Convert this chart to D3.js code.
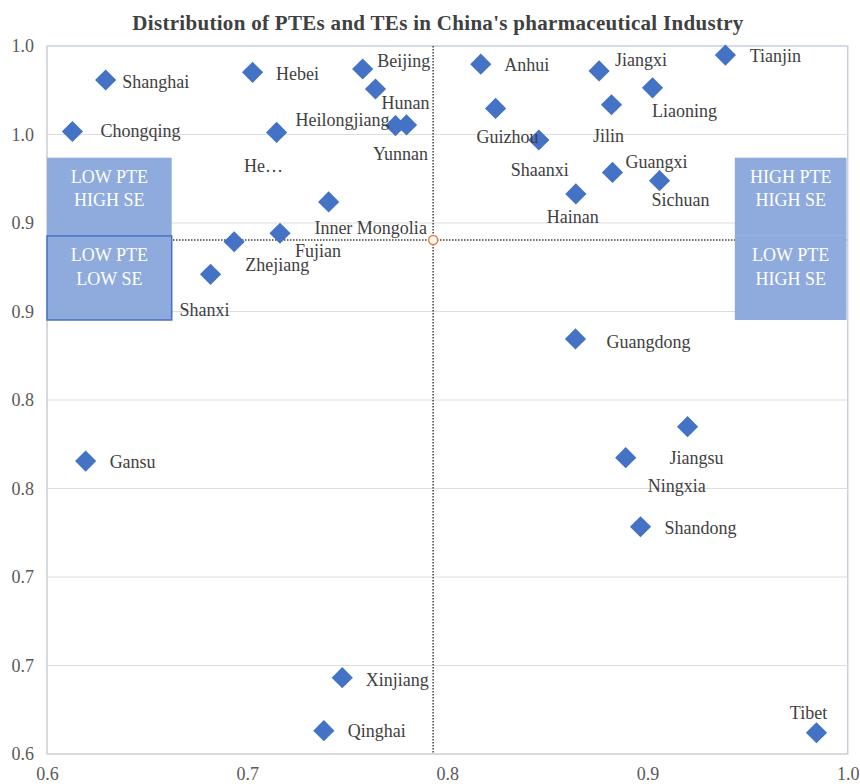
<!DOCTYPE html>
<html>
<head>
<meta charset="utf-8">
<script src="https://cdn.jsdelivr.net/npm/d3@7"></script>
<style>
    body { margin: 0; background: #ffffff; }
    #chart { width: 860px; height: 784px; }
    text { font-family: "Liberation Serif", "Times New Roman", serif; }
</style>
</head>
<body>
<div id="chart"></div>
<script>
// Province names and their (PTE, SE) values
const provinces = ["Shanghai", "Hebei", "Beijing", "Hunan", "Heilongjiang", "Yunnan",
    "Chongqing", "Henan", "Inner Mongolia", "Fujian", "Zhejiang", "Shanxi", "Gansu",
    "Xinjiang", "Qinghai", "Anhui", "Jiangxi", "Tianjin", "Liaoning", "Guizhou", "Jilin",
    "Shaanxi", "Guangxi", "Sichuan", "Hainan", "Guangdong", "Jiangsu", "Ningxia",
    "Shandong", "Tibet"];
const pte = [0.6293, 0.7027, 0.7577, 0.7641, 0.7741, 0.7796,
    0.6127, 0.7147, 0.7407, 0.7164, 0.6935, 0.6817, 0.6193,
    0.7475, 0.7383, 0.8167, 0.8758, 0.9389, 0.9025, 0.8241, 0.8820,
    0.8457, 0.8825, 0.9060, 0.8642, 0.8640, 0.9200, 0.8891,
    0.8965, 0.9844];
const se = [0.9808, 0.9851, 0.9870, 0.9757, 0.9550, 0.9554,
    0.9517, 0.9512, 0.9119, 0.8942, 0.8894, 0.8710, 0.7655,
    0.6431, 0.6132, 0.9897, 0.9859, 0.9949, 0.9764, 0.9647, 0.9668,
    0.9469, 0.9286, 0.9239, 0.9164, 0.8345, 0.7849, 0.7674,
    0.7284, 0.6120];

// mean point where the dotted lines cross
const meanPte = 0.7929;
const meanSe = 0.8904;

// labels that are shown truncated in the chart
const shownLabel = { "Henan": "He\u2026" };

// data label offsets from the marker (px)
const labelDx = [50, 45, 41, 30, -53, -6, 68, -13, 42, 38, 43, -6, 47,
    55, 53, 46, 42, 50, 32, 12, -3, 1, 44, 21, -3, 73, 9, 51, 60, -8];
const labelDy = [2, 1, -8, 14, -6, 29, -1, 33, 26, 17, 23, 35, 1,
    2, 0, 0, -11, 1, 23, 28, 31, 30, -11, 19, 23, 3, 31, 28, 1, -20];

// axis ticks
const xTicks = [0.6, 0.7, 0.8, 0.9, 1.0];
const xTickLabels = ["0.6", "0.7", "0.8", "0.9", "1.0"];
const yTicks = [1.0, 0.95, 0.9, 0.85, 0.8, 0.75, 0.7, 0.65, 0.6];
const yTickLabels = ["1.0", "1.0", "0.9", "0.9", "0.8", "0.8", "0.7", "0.7", "0.6"];

// quadrant note boxes, in data units
const noteBoxes = [
    { x0: 0.6, x1: 0.6623, top: 0.9369, bottom: 0.8927, lines: ["LOW PTE", "HIGH SE"], outline: false },
    { x0: 0.6, x1: 0.6623, top: 0.8927, bottom: 0.8452, lines: ["LOW PTE", "LOW SE"], outline: true },
    { x0: 0.9436, x1: 0.9994, top: 0.9369, bottom: 0.8927, lines: ["HIGH PTE", "HIGH SE"], outline: false },
    { x0: 0.9436, x1: 0.9994, top: 0.8927, bottom: 0.8452, lines: ["LOW PTE", "HIGH SE"], outline: false }
];

const width = 860;
const height = 784;
const margin = { top: 46, right: 12, bottom: 30, left: 47 };

const svg = d3.select("#chart")
    .append("svg")
    .attr("width", width)
    .attr("height", height);

const x = d3.scaleLinear()
    .domain([0.6, 1.0])
    .range([margin.left, width - margin.right - 0.3]);

const y = d3.scaleLinear()
    .domain([0.6, 1.0])
    .range([height - margin.bottom, margin.top]);

// Title
svg.append("text")
    .attr("x", 438)
    .attr("y", 30)
    .attr("text-anchor", "middle")
    .attr("font-size", 21)
    .attr("font-weight", "bold")
    .attr("letter-spacing", 0.3)
    .attr("fill", "#404040")
    .text("Distribution of PTEs and TEs in China's pharmaceutical Industry");

// plot border
svg.append("rect")
    .attr("x", x(0.6))
    .attr("y", y(1.0))
    .attr("width", x(1.0) - x(0.6))
    .attr("height", y(0.6) - y(1.0))
    .attr("fill", "none")
    .attr("stroke", "#c8d0dd")
    .attr("stroke-width", 1.5);

// gridlines
svg.append("g")
    .selectAll("line")
    .data(yTicks.slice(1, -1))
    .join("line")
    .attr("x1", x(0.6))
    .attr("x2", x(1.0))
    .attr("y1", d => y(d))
    .attr("y2", d => y(d))
    .attr("stroke", "#dedede")
    .attr("stroke-width", 1.2);

// left and bottom axis lines
svg.append("line")
    .attr("x1", x(0.6)).attr("x2", x(0.6))
    .attr("y1", y(1.0)).attr("y2", y(0.6))
    .attr("stroke", "#d9d9d9").attr("stroke-width", 1.5);
svg.append("line")
    .attr("x1", x(0.6)).attr("x2", x(1.0))
    .attr("y1", y(0.6)).attr("y2", y(0.6))
    .attr("stroke", "#d9d9d9").attr("stroke-width", 1.5);

// axes (labels only)
const yAxis = svg.append("g")
    .attr("transform", `translate(${margin.left},0)`)
    .call(d3.axisLeft(y)
        .tickValues(yTicks)
        .tickFormat((d, idx) => yTickLabels[idx])
        .tickSize(0)
        .tickPadding(13));

const xAxis = svg.append("g")
    .attr("transform", `translate(0,${height - margin.bottom})`)
    .call(d3.axisBottom(x)
        .tickValues(xTicks)
        .tickFormat((d, idx) => xTickLabels[idx])
        .tickSize(0)
        .tickPadding(13));

[xAxis, yAxis].forEach(axis => {
    axis.select(".domain").remove();
    axis.selectAll("text")
        .attr("font-family", "'Liberation Serif', serif")
        .attr("font-size", 18)
        .attr("fill", "#595959");
});

// dotted mean lines
svg.append("line")
    .attr("x1", x(meanPte)).attr("x2", x(meanPte))
    .attr("y1", y(1.0)).attr("y2", y(0.6))
    .attr("stroke", "#404040")
    .attr("stroke-width", 1.5)
    .attr("stroke-dasharray", "1.5,1.5");
svg.append("line")
    .attr("x1", x(0.6)).attr("x2", x(1.0))
    .attr("y1", y(meanSe)).attr("y2", y(meanSe))
    .attr("stroke", "#404040")
    .attr("stroke-width", 1.5)
    .attr("stroke-dasharray", "1.5,1.5");

svg.append("circle")
    .attr("cx", x(meanPte))
    .attr("cy", y(meanSe))
    .attr("r", 4.5)
    .attr("fill", "#ffffff")
    .attr("stroke", "#ed7d31")
    .attr("stroke-width", 1.5);

// quadrant note boxes
const notes = svg.append("g");
noteBoxes.forEach(b => {
    notes.append("rect")
        .attr("x", x(b.x0))
        .attr("y", y(b.top))
        .attr("width", x(b.x1) - x(b.x0))
        .attr("height", y(b.bottom) - y(b.top))
        .attr("fill", "#8faadc")
        .attr("stroke", b.outline ? "#4472c4" : "none")
        .attr("stroke-width", 1.5);
    b.lines.forEach((line, k) => {
        notes.append("text")
            .attr("x", (x(b.x0) + x(b.x1)) / 2)
            .attr("y", y(b.top) + 19 + k * 23.5)
            .attr("dy", "0.35em")
            .attr("text-anchor", "middle")
            .attr("font-size", 18)
            .attr("fill", "#ffffff")
            .text(line);
    });
});

// markers
const points = provinces.map((name, idx) => ({
    name: name,
    pte: pte[idx],
    se: se[idx],
    dx: labelDx[idx],
    dy: labelDy[idx]
}));

const diamond = d3.symbol().type(d3.symbolSquare).size(225);

svg.append("g")
    .selectAll("path")
    .data(points)
    .join("path")
    .attr("d", diamond)
    .attr("transform", d => `translate(${x(d.pte)},${y(d.se)}) rotate(45)`)
    .attr("fill", "#4472c4");

// data labels
svg.append("g")
    .selectAll("text")
    .data(points)
    .join("text")
    .attr("x", d => x(d.pte) + d.dx)
    .attr("y", d => y(d.se) + d.dy)
    .attr("dy", "0.35em")
    .attr("text-anchor", "middle")
    .attr("font-size", 18)
    .attr("fill", "#404040")
    .text(d => shownLabel[d.name] || d.name);
</script>
</body>
</html>
